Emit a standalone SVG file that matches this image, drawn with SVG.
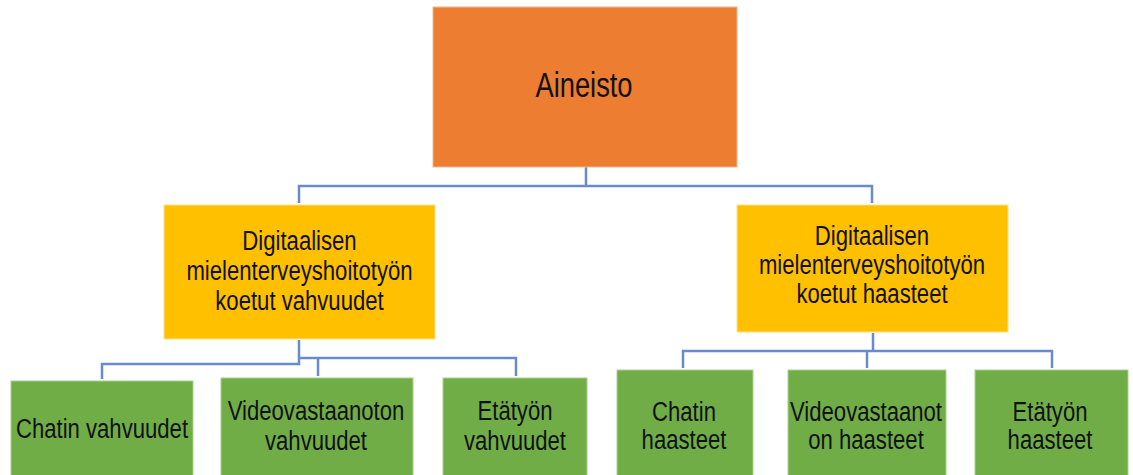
<svg xmlns="http://www.w3.org/2000/svg" width="1133" height="475" viewBox="0 0 1133 475">
<style>
  .t { font-family: "Liberation Sans", Arial, sans-serif; fill: #111; text-anchor: middle; font-size: 28px; }
  .top { fill: #ED7D31; stroke: #F4B98F; stroke-width: 1; }
  .mid { fill: #FFC000; stroke: #FFE08A; stroke-width: 1; }
  .leaf { fill: #70AD47; stroke: #A9CF8F; stroke-width: 1; }
  .c { fill: none; stroke: #6A8BCB; stroke-width: 2.5; }
</style>
<rect width="1133" height="475" fill="#fff"/>
<g id="connectors">
  <path class="c" d="M586 167 V186 M299 203 V186 H872 V203"/>
  <path class="c" d="M299 340 V364 H102 V379"/>
  <path class="c" d="M299 358 H516 V376 M318 358 V376"/>
  <path class="c" d="M873 333 V351 M683 368 V351 H1052 V368 M867 351 V368"/>
</g>
<g id="aineisto">
  <rect class="top" x="433" y="7" width="304" height="160"/>
  <text class="t" style="font-size:35px" transform="translate(584,97) scale(0.78,1)" x="0" y="0">Aineisto</text>
</g>
<g id="vahvuudet">
  <rect class="mid" x="164" y="205" width="271" height="134"/>
  <g transform="translate(299.5,0) scale(0.79,1)">
    <text class="t" x="0" y="250">Digitaalisen</text>
    <text class="t" x="0" y="280">mielenterveyshoitotyön</text>
    <text class="t" x="0" y="310">koetut vahvuudet</text>
  </g>
</g>
<g id="haasteet">
  <rect class="mid" x="737" y="205" width="271" height="127"/>
  <g transform="translate(872,0) scale(0.79,1)">
    <text class="t" x="0" y="245">Digitaalisen</text>
    <text class="t" x="0" y="274">mielenterveyshoitotyön</text>
    <text class="t" x="0" y="303">koetut haasteet</text>
  </g>
</g>
<g id="chatin-vahvuudet">
  <rect class="leaf" x="11" y="381" width="182" height="100"/>
  <g transform="translate(102,0) scale(0.79,1)">
    <text class="t" x="0" y="438">Chatin vahvuudet</text>
  </g>
</g>
<g id="video-vahvuudet">
  <rect class="leaf" x="221" y="378" width="192" height="103"/>
  <g transform="translate(316,0) scale(0.79,1)">
    <text class="t" x="0" y="420">Videovastaanoton</text>
    <text class="t" x="0" y="450">vahvuudet</text>
  </g>
</g>
<g id="eta-vahvuudet">
  <rect class="leaf" x="443" y="378" width="144" height="103"/>
  <g transform="translate(515,0) scale(0.79,1)">
    <text class="t" x="0" y="420">Etätyön</text>
    <text class="t" x="0" y="450">vahvuudet</text>
  </g>
</g>
<g id="chatin-haasteet">
  <rect class="leaf" x="617" y="370" width="136" height="111"/>
  <g transform="translate(684,0) scale(0.79,1)">
    <text class="t" x="0" y="421">Chatin</text>
    <text class="t" x="0" y="449">haasteet</text>
  </g>
</g>
<g id="video-haasteet">
  <rect class="leaf" x="788" y="370" width="158" height="111"/>
  <g transform="translate(866,0) scale(0.79,1)">
    <text class="t" x="0" y="421">Videovastaanot</text>
    <text class="t" x="0" y="449">on haasteet</text>
  </g>
</g>
<g id="eta-haasteet">
  <rect class="leaf" x="975" y="370" width="153" height="111"/>
  <g transform="translate(1050,0) scale(0.79,1)">
    <text class="t" x="0" y="421">Etätyön</text>
    <text class="t" x="0" y="449">haasteet</text>
  </g>
</g>
</svg>
